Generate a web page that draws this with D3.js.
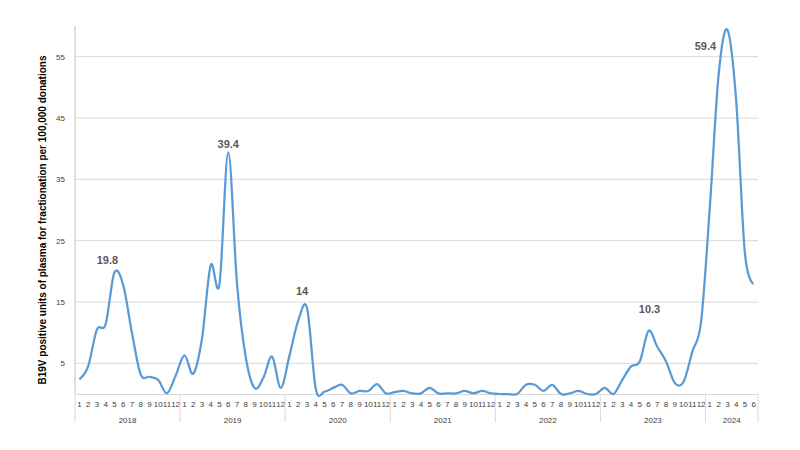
<!DOCTYPE html>
<html>
<head>
<meta charset="utf-8">
<script src="https://cdn.jsdelivr.net/npm/d3@7"></script>
<style>
  body { margin: 0; background: #fff; }
  svg { display: block; }
  .tick-text { font-family: "Liberation Sans", Arial, sans-serif; font-size: 8px; fill: #404040; }
  .data-label { font-family: "Liberation Sans", Arial, sans-serif; font-size: 11px; font-weight: bold; fill: #595959; }
  .y-title { font-family: "Liberation Sans", Arial, sans-serif; font-size: 10px; font-weight: bold; fill: #000; }
</style>
</head>
<body>
<svg id="chart"></svg>
<script>
// data
const years = ["2018", "2019", "2020", "2021", "2022", "2023", "2024"];
const monthsPerYear = [12, 12, 12, 12, 12, 12, 6];
const values = [
  2.4, 4.5, 10.5, 11.4, 19.8, 17.8, 10, 3.2, 2.8, 2.3, 0.1, 3.0,   // 2018
  6.3, 3.3, 9, 21, 17.9, 39.4, 18, 6, 1.0, 2.6, 6.1, 1.0,         // 2019
  6.3, 12, 14, 0.8, 0.4, 1.0, 1.5, 0.1, 0.5, 0.5, 1.6, 0.1,       // 2020
  0.3, 0.5, 0.1, 0.1, 1.0, 0.1, 0.1, 0.1, 0.5, 0.1, 0.5, 0.1,     // 2021
  0, 0, 0, 1.5, 1.5, 0.5, 1.5, 0, 0.1, 0.5, 0, 0,                 // 2022
  1.0, 0, 2.3, 4.5, 5.3, 10.3, 7.7, 5.3, 1.8, 2.0, 6.9, 11.8,     // 2023
  30.5, 52, 59.4, 48, 23, 18                                      // 2024
];
const yTicks = [5, 15, 25, 35, 45, 55];
const labelled = [4, 17, 26, 65, 74];   // months with a data label
const labelText = ["19.8", "39.4", "14", "10.3", "59.4"];
const yTitle = "B19V positive units of plasma for fractionation per 100,000 donations";

// month list built from the years
const months = [];
years.forEach((yr, k) => {
  for (let m = 1; m <= monthsPerYear[k]; m++) months.push({ year: yr, month: m });
});

var w = 800;
var h = 450;
var svg = d3.select("#chart").attr("width", w).attr("height", h);

const plotLeft = 75, plotRight = 758, plotTop = 26, plotBottom = 394;

const x = d3.scaleBand()
  .domain(d3.range(months.length))
  .range([plotLeft, plotRight])
  .padding(0);
const xc = (i) => x(i) + x.bandwidth() / 2;

const y = d3.scaleLinear()
  .domain([0, 60])
  .range([plotBottom, plotTop]);

// gridlines
svg.append("g")
  .selectAll("line")
  .data(yTicks)
  .enter()
  .append("line")
  .attr("x1", plotLeft)
  .attr("x2", plotRight)
  .attr("y1", (d) => y(d))
  .attr("y2", (d) => y(d))
  .attr("stroke", "#d9d9d9")
  .attr("stroke-width", 1);

// y axis
const yAxis = svg.append("g")
  .attr("transform", "translate(" + plotLeft + ",0)")
  .call(d3.axisLeft(y).tickValues(yTicks).tickSize(0).tickPadding(10));
yAxis.select(".domain").remove();
yAxis.selectAll("text").attr("class", "tick-text").attr("fill", null);

svg.append("line")
  .attr("x1", plotLeft).attr("x2", plotLeft)
  .attr("y1", plotTop).attr("y2", plotBottom)
  .attr("stroke", "#bfbfbf");

// x axis: months
const xAxis = svg.append("g")
  .attr("transform", "translate(0," + plotBottom + ")")
  .call(d3.axisBottom(x).tickSize(0).tickPadding(7).tickFormat((i) => months[i].month));
xAxis.select(".domain").attr("stroke", "#d9d9d9");
xAxis.selectAll("text").attr("class", "tick-text").attr("fill", null);

// year groups
let start = 0;
const groups = years.map((yr, k) => {
  const g = { year: yr, start: start, end: start + monthsPerYear[k] };
  start += monthsPerYear[k];
  return g;
});
const edges = groups.map((g) => g.start).concat([months.length]);
const edgeX = (i) => i < months.length ? x(i) : plotRight;

svg.append("g")
  .selectAll("line")
  .data(edges)
  .enter()
  .append("line")
  .attr("x1", (d) => edgeX(d))
  .attr("x2", (d) => edgeX(d))
  .attr("y1", plotBottom)
  .attr("y2", plotBottom + 28)
  .attr("stroke", "#d9d9d9");

svg.append("g")
  .selectAll("text")
  .data(groups)
  .enter()
  .append("text")
  .attr("class", "tick-text")
  .attr("text-anchor", "middle")
  .attr("x", (d) => (edgeX(d.start) + edgeX(d.end)) / 2)
  .attr("y", plotBottom + 29)
  .text((d) => d.year);

// line
const line = d3.line()
  .x((d, i) => xc(i))
  .y((d) => y(d))
  .curve(d3.curveCardinal.tension(0));

svg.append("path")
  .datum(values)
  .attr("d", line)
  .attr("fill", "none")
  .attr("stroke", "#5b9bd5")
  .attr("stroke-width", 2.25)
  .attr("stroke-linejoin", "round");

// data labels
const labelOffsets = [[-7, -9], [0, -4], [-5, -13], [1, -18], [-22, 20]];
svg.append("g")
  .selectAll("text")
  .data(labelled)
  .enter()
  .append("text")
  .attr("class", "data-label")
  .attr("text-anchor", "middle")
  .attr("x", (d, k) => xc(d) + labelOffsets[k][0])
  .attr("y", (d, k) => y(values[d]) + labelOffsets[k][1])
  .text((d, k) => labelText[k]);

// y title
svg.append("text")
  .attr("class", "y-title")
  .attr("text-anchor", "middle")
  .attr("transform", "translate(46," + ((plotTop + plotBottom) / 2 + 10) + ") rotate(-90)")
  .text(yTitle);
</script>
</body>
</html>
